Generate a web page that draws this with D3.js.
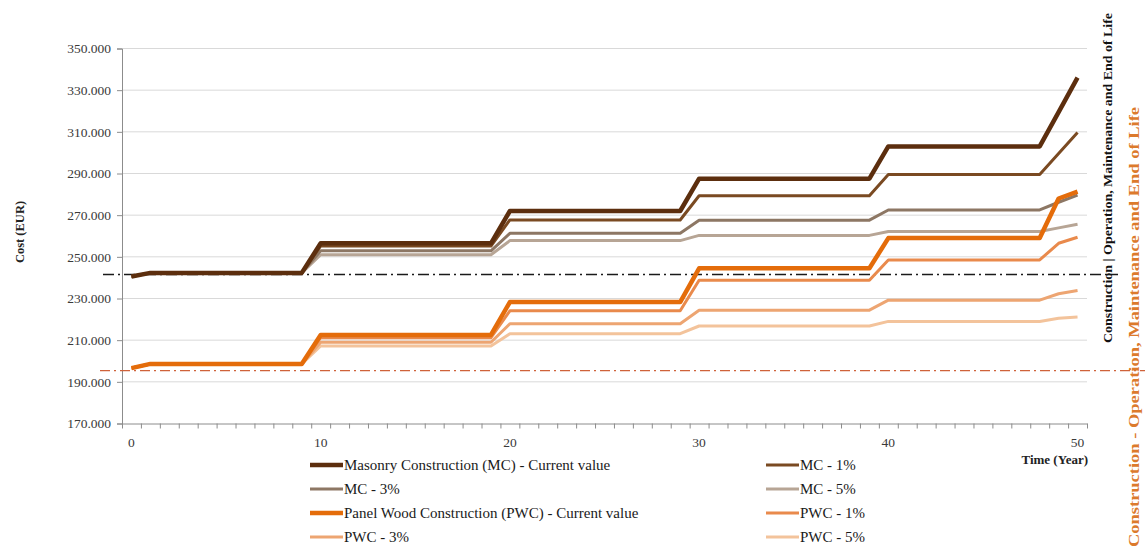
<!DOCTYPE html>
<html><head><meta charset="utf-8">
<script src="https://cdn.jsdelivr.net/npm/d3@7"></script>
<style>
html,body{margin:0;padding:0;background:#fff;}
svg{display:block;}
text{font-family:"Liberation Serif","Times New Roman",serif;}
</style></head>
<body><svg id="c" width="1145" height="551"></svg>
<script>
// ---------- data ----------
const years = [0,1,2,3,4,5,6,7,8,9,10,11,12,13,14,15,16,17,18,19,20,21,22,23,24,25,26,27,28,29,30,31,32,33,34,35,36,37,38,39,40,41,42,43,44,45,46,47,48,49,50];
const xTickLabels = [0,10,20,30,40,50];
const yTickValues = [170000,190000,210000,230000,250000,270000,290000,310000,330000,350000];
const seriesNames = ["Masonry Construction (MC) - Current value","MC - 1%","MC - 3%","MC - 5%","Panel Wood Construction (PWC) - Current value","PWC - 1%","PWC - 3%","PWC - 5%"];
const mcCurrent = [240600,242300,242300,242300,242300,242300,242300,242300,242300,242300,
 256500,256500,256500,256500,256500,256500,256500,256500,256500,256500,
 272000,272000,272000,272000,272000,272000,272000,272000,272000,272000,
 287500,287500,287500,287500,287500,287500,287500,287500,287500,287500,
 303000,303000,303000,303000,303000,303000,303000,303000,303000,319500,336000];
const mc1 = [240600,242300,242300,242300,242300,242300,242300,242300,242300,242300,
 255200,255200,255200,255200,255200,255200,255200,255200,255200,255200,
 267700,267700,267700,267700,267700,267700,267700,267700,267700,267700,
 279300,279300,279300,279300,279300,279300,279300,279300,279300,279300,
 289500,289500,289500,289500,289500,289500,289500,289500,289500,299600,309700];
const mc3 = [240600,242300,242300,242300,242300,242300,242300,242300,242300,242300,
 252900,252900,252900,252900,252900,252900,252900,252900,252900,252900,
 261300,261300,261300,261300,261300,261300,261300,261300,261300,261300,
 267600,267600,267600,267600,267600,267600,267600,267600,267600,267600,
 272500,272500,272500,272500,272500,272500,272500,272500,272500,276200,279600];
const mc5 = [240600,242300,242300,242300,242300,242300,242300,242300,242300,242300,
 251000,251000,251000,251000,251000,251000,251000,251000,251000,251000,
 257800,257800,257800,257800,257800,257800,257800,257800,257800,257800,
 260300,260300,260300,260300,260300,260300,260300,260300,260300,260300,
 262200,262200,262200,262200,262200,262200,262200,262200,262200,263900,265600];
const pwcCurrent = [196600,198600,198600,198600,198600,198600,198600,198600,198600,198600,
 212500,212500,212500,212500,212500,212500,212500,212500,212500,212500,
 228300,228300,228300,228300,228300,228300,228300,228300,228300,228300,
 244500,244500,244500,244500,244500,244500,244500,244500,244500,244500,
 259000,259000,259000,259000,259000,259000,259000,259000,259000,278000,281300];
const pwc1 = [196600,198600,198600,198600,198600,198600,198600,198600,198600,198600,
 211200,211200,211200,211200,211200,211200,211200,211200,211200,211200,
 224100,224100,224100,224100,224100,224100,224100,224100,224100,224100,
 238800,238800,238800,238800,238800,238800,238800,238800,238800,238800,
 248500,248500,248500,248500,248500,248500,248500,248500,248500,256500,259400];
const pwc3 = [196600,198600,198600,198600,198600,198600,198600,198600,198600,198600,
 209000,209000,209000,209000,209000,209000,209000,209000,209000,209000,
 217900,217900,217900,217900,217900,217900,217900,217900,217900,217900,
 224400,224400,224400,224400,224400,224400,224400,224400,224400,224400,
 229200,229200,229200,229200,229200,229200,229200,229200,229200,232300,233800];
const pwc5 = [196600,198600,198600,198600,198600,198600,198600,198600,198600,198600,
 207200,207200,207200,207200,207200,207200,207200,207200,207200,207200,
 213100,213100,213100,213100,213100,213100,213100,213100,213100,213100,
 216800,216800,216800,216800,216800,216800,216800,216800,216800,216800,
 219000,219000,219000,219000,219000,219000,219000,219000,219000,220500,221100];
const mcConstruction = 241500;
const pwcConstruction = 195400;
const sideLabelMC = "Construction | Operation, Maintenance and End of Life";
const sideLabelPWC = "Construction - Operation, Maintenance and End of Life";

// ---------- styling ----------
const colors = ["#5c2e0e","#7a4a22","#8d7764","#b7a595","#e46c0a","#e98a4c","#eda572","#f3c39b"];
const widths = [4.5,3,3,3,4.5,3,3,3];
const allSeries = [mcCurrent,mc1,mc3,mc5,pwcCurrent,pwc1,pwc3,pwc5];

const svg = d3.select("#c");
const x = d3.scaleLinear().domain([-0.5, 50.5]).range([122, 1087]);
const y = d3.scaleLinear().domain([170000, 350000]).range([423.5, 48.5]);
const loc = d3.formatLocale({decimal:",", thousands:".", grouping:[3], currency:["","€"]});
const fmt = loc.format(",.0f");

// gridlines
svg.append("g").selectAll("line").data(yTickValues.slice(1)).join("line")
  .attr("x1", 122).attr("x2", 1087)
  .attr("y1", d => y(d)).attr("y2", d => y(d))
  .attr("stroke", "#d9d9d9").attr("stroke-width", 1);

// y axis
const gy = svg.append("g").attr("transform", "translate(122,0)")
  .call(d3.axisLeft(y).tickValues(yTickValues).tickFormat(fmt).tickSize(5).tickPadding(6));
gy.select(".domain").attr("stroke", "#8c8c8c");
gy.selectAll(".tick line").attr("stroke", "#8c8c8c");
gy.selectAll(".tick text").attr("font-family", "Liberation Serif").attr("font-size", 13.5).attr("fill", "#3a3a3a");

// x axis: ticks at category boundaries
const boundaries = years.map(d => d - 0.5).concat([50.5]);
const gx = svg.append("g").attr("transform", "translate(0,423.5)")
  .call(d3.axisBottom(x).tickValues(boundaries).tickFormat("").tickSize(5).tickSizeOuter(0));
gx.select(".domain").attr("stroke", "#8c8c8c");
gx.selectAll(".tick line").attr("stroke", "#8c8c8c");
svg.append("g").selectAll("text").data(xTickLabels).join("text")
  .attr("x", d => x(d)).attr("y", 447).attr("text-anchor", "middle")
  .attr("font-size", 13.5).attr("fill", "#3a3a3a").text(d => d);

// axis titles
svg.append("text").attr("transform", "translate(24,232) rotate(-90)")
  .attr("text-anchor", "middle").attr("font-size", 12.5).attr("font-weight", "bold")
  .attr("fill", "#222").text("Cost (EUR)");
svg.append("text").attr("x", 1088).attr("y", 464).attr("text-anchor", "end")
  .attr("font-size", 13).attr("font-weight", "bold").attr("fill", "#222").text("Time (Year)");

// reference lines
svg.append("line").attr("x1", 103).attr("x2", 1118)
  .attr("y1", y(mcConstruction)).attr("y2", y(mcConstruction))
  .attr("stroke", "#1a1a1a").attr("stroke-width", 1.5).attr("stroke-dasharray", "11,4,2,4");
svg.append("line").attr("x1", 100).attr("x2", 1145)
  .attr("y1", y(pwcConstruction)).attr("y2", y(pwcConstruction))
  .attr("stroke", "#cf623a").attr("stroke-width", 1.3).attr("stroke-dasharray", "10,4,2,4");

// series lines
const line = d3.line().x((d, i) => x(years[i])).y(d => y(d));
const order = [3,2,1,0,7,6,5,4];
svg.append("g").selectAll("path").data(order).join("path")
  .attr("d", i => line(allSeries[i]))
  .attr("fill", "none").attr("stroke", i => colors[i]).attr("stroke-width", i => widths[i])
  .attr("stroke-linejoin", "round").attr("stroke-linecap", "butt");

// side labels
svg.append("text").attr("transform", "translate(1112,343) rotate(-90)")
  .attr("font-size", 13.5).attr("font-weight", "bold").attr("fill", "#111")
  .attr("textLength", 330).attr("lengthAdjust", "spacingAndGlyphs").text(sideLabelMC);
svg.append("text").attr("transform", "translate(1139,547) rotate(-90)")
  .attr("font-size", 14).attr("font-weight", "bold").attr("fill", "#dc7a2c")
  .attr("textLength", 440).attr("lengthAdjust", "spacingAndGlyphs").text(sideLabelPWC);

// legend
const legX = [310, 766], legY = [470, 494, 518, 542];
const leg = svg.append("g").selectAll("g").data(seriesNames).join("g")
  .attr("transform", (d, i) => `translate(${legX[i % 2]},${legY[Math.floor(i / 2)]})`);
leg.append("line").attr("x1", 0).attr("x2", 33).attr("y1", -5).attr("y2", -5)
  .attr("stroke", (d, i) => colors[i]).attr("stroke-width", (d, i) => widths[i]);
leg.append("text").attr("x", 34).attr("y", 0).attr("font-size", 15).attr("fill", "#1a1a1a")
  .text(d => d);
</script></body></html>
